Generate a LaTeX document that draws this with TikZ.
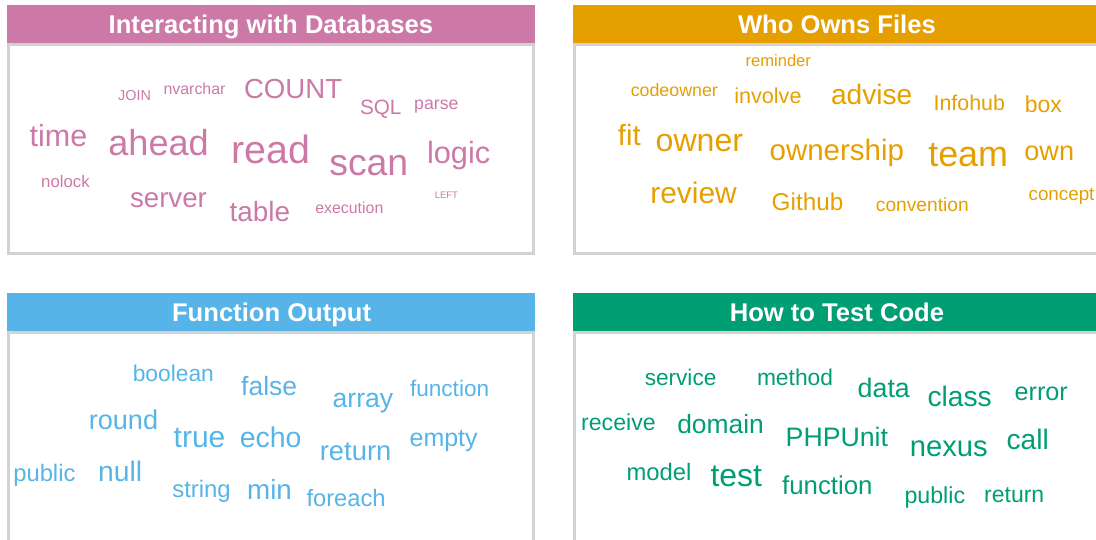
\documentclass[tikz,border=0pt]{standalone}
\usepackage{fontspec}
\setmainfont{Liberation Sans}
\definecolor{dbpink}{HTML}{CC79A7}
\definecolor{ownorange}{HTML}{E69F00}
\definecolor{fnblue}{HTML}{56B4E9}
\definecolor{testgreen}{HTML}{009E73}
\definecolor{framegray}{RGB}{210,210,210}
\tikzset{
  frame/.style={draw=framegray, line width=3pt},
  title/.style={anchor=base, inner sep=0pt, text=white, font=\fontsize{25.6}{25.6}\selectfont\bfseries},
  wordsz/.style={anchor=base west, inner sep=0pt, outer sep=0pt, font=\fontsize{#1}{#1}\selectfont},
}
\begin{document}
\begin{tikzpicture}[x=1pt, y=-1pt]
\useasboundingbox (0,0) rectangle (1096,539);
\clip (0,0) rectangle (1096,539);

% ---------- panel: Interacting with Databases ----------
\draw[frame] (8.5,44.5) rectangle (533.8,253.3);
\fill[dbpink] (7,4.5) rectangle (534.7,43);
\node[title] (t1) at (270.9,33.4) {Interacting with Databases};
\begin{scope}[text=dbpink]
\node[wordsz=14.4] (db-join) at (118.2,100.0) {JOIN};
\node[wordsz=15.9] (db-nvarchar) at (163.6,94.3) {nvarchar};
\node[wordsz=27.6] (db-count) at (244.0,98.3) {COUNT};
\node[wordsz=20.7] (db-sql) at (360.0,114.3) {SQL};
\node[wordsz=17.7] (db-parse) at (414.2,109.0) {parse};
\node[wordsz=30.5] (db-time) at (29.7,146.7) {time};
\node[wordsz=36.1] (db-ahead) at (108.4,155.0) {ahead};
\node[wordsz=39.4] (db-read) at (231.4,163.4) {read};
\node[wordsz=37.4] (db-scan) at (329.3,175.0) {scan};
\node[wordsz=30.7] (db-logic) at (427.1,163.4) {logic};
\node[wordsz=16.8] (db-nolock) at (41.2,187.3) {nolock};
\node[wordsz=27.7] (db-server) at (130.0,207.3) {server};
\node[wordsz=27.9] (db-table) at (229.6,221.6) {table};
\node[wordsz=15.9] (db-execution) at (315.3,213.3) {execution};
\node[wordsz=9.5] (db-left) at (434.8,198.4) {LEFT};
\end{scope}

% ---------- panel: Who Owns Files ----------
\draw[frame] (574,44.5) rectangle (1099.5,253.8);
\fill[ownorange] (573,4.5) rectangle (1100.7,43);
\node[title] (t2) at (836.9,33.4) {Who Owns Files};
\begin{scope}[text=ownorange]
\node[wordsz=16.6] (ow-reminder) at (745.5,66.0) {reminder};
\node[wordsz=17.8] (ow-codeowner) at (630.8,96.7) {codeowner};
\node[wordsz=21.6] (ow-involve) at (734.3,103.3) {involve};
\node[wordsz=28.1] (ow-advise) at (831.1,104.3) {advise};
\node[wordsz=21.4] (ow-infohub) at (933.6,110.0) {Infohub};
\node[wordsz=23.0] (ow-box) at (1024.8,112.7) {box};
\node[wordsz=29.3] (ow-fit) at (617.9,145.7) {fit};
\node[wordsz=32.1] (ow-owner) at (655.7,151.7) {owner};
\node[wordsz=29.5] (ow-ownership) at (769.6,160.0) {ownership};
\node[wordsz=35.9] (ow-team) at (928.3,166.7) {team};
\node[wordsz=27.1] (ow-own) at (1024.4,160.0) {own};
\node[wordsz=29.9] (ow-review) at (650.4,203.3) {review};
\node[wordsz=24.3] (ow-github) at (771.7,210.7) {Github};
\node[wordsz=19.2] (ow-convention) at (875.9,211.7) {convention};
\node[wordsz=18.8] (ow-concept) at (1028.6,200.0) {concept};
\end{scope}

% ---------- panel: Function Output ----------
\draw[frame] (8.5,332.8) rectangle (533.8,560);
\fill[fnblue] (7,293) rectangle (534.7,331);
\node[title] (t3) at (271.6,321.0) {Function Output};
\begin{scope}[text=fnblue]
\node[wordsz=22.8] (fn-boolean) at (132.8,381.7) {boolean};
\node[wordsz=26.5] (fn-false) at (241.2,395.0) {false};
\node[wordsz=26.6] (fn-array) at (332.7,407.6) {array};
\node[wordsz=22.6] (fn-function) at (410.0,396.0) {function};
\node[wordsz=27.1] (fn-round) at (88.8,429.3) {round};
\node[wordsz=30.0] (fn-true) at (173.7,447.7) {true};
\node[wordsz=28.5] (fn-echo) at (239.8,447.3) {echo};
\node[wordsz=27.4] (fn-return) at (319.8,460.0) {return};
\node[wordsz=25.0] (fn-empty) at (409.6,446.7) {empty};
\node[wordsz=23.8] (fn-public) at (13.3,481.7) {public};
\node[wordsz=28.3] (fn-null) at (98.2,481.7) {null};
\node[wordsz=23.9] (fn-string) at (172.3,497.3) {string};
\node[wordsz=27.8] (fn-min) at (247.1,499.3) {min};
\node[wordsz=23.7] (fn-foreach) at (306.5,506.6) {foreach};
\end{scope}

% ---------- panel: How to Test Code ----------
\draw[frame] (574,332.8) rectangle (1099.5,560);
\fill[testgreen] (573,293) rectangle (1100.7,331);
\node[title] (t4) at (836.9,321.0) {How to Test Code};
\begin{scope}[text=testgreen]
\node[wordsz=22.6] (ts-service) at (644.8,385.7) {service};
\node[wordsz=22.8] (ts-method) at (757.0,385.0) {method};
\node[wordsz=26.8] (ts-data) at (857.7,397.0) {data};
\node[wordsz=28.2] (ts-class) at (927.6,406.7) {class};
\node[wordsz=25.2] (ts-error) at (1014.6,400.7) {error};
\node[wordsz=23.1] (ts-receive) at (581.2,430.6) {receive};
\node[wordsz=26.4] (ts-domain) at (677.3,433.3) {domain};
\node[wordsz=26.7] (ts-phpunit) at (785.7,446.7) {PHPUnit};
\node[wordsz=29.2] (ts-nexus) at (909.8,456.7) {nexus};
\node[wordsz=28.2] (ts-call) at (1006.6,449.0) {call};
\node[wordsz=23.8] (ts-model) at (626.6,480.7) {model};
\node[wordsz=31.9] (ts-test) at (710.5,486.7) {test};
\node[wordsz=25.8] (ts-function) at (782.2,494.3) {function};
\node[wordsz=23.2] (ts-public) at (904.5,503.3) {public};
\node[wordsz=23.0] (ts-return) at (984.2,502.3) {return};
\end{scope}
\end{tikzpicture}
\end{document}
